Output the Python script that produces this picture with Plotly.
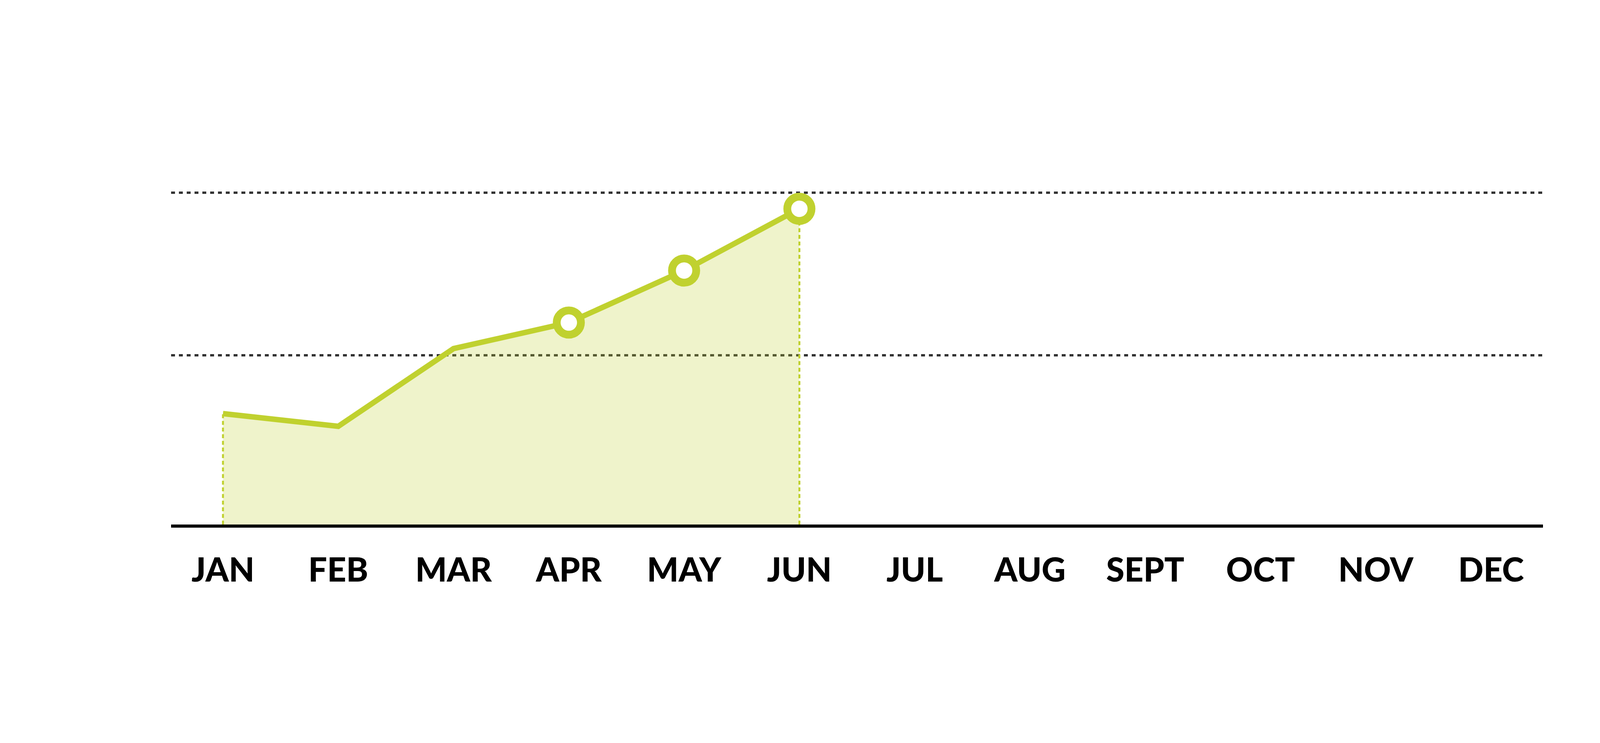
import plotly.graph_objects as go

months = ["JAN", "FEB", "MAR", "APR", "MAY", "JUN", "JUL", "AUG", "SEPT", "OCT", "NOV", "DEC"]
data_months = ["JAN", "FEB", "MAR", "APR", "MAY", "JUN"]
values = [34.1, 30.2, 54.1, 62.1, 78.1, 97.1]
marker_months = ["APR", "MAY", "JUN"]
marker_values = [62.1, 78.1, 97.1]
grid_levels = [52, 102]

GREEN = "#C0D12F"
FILL = "rgba(192,209,47,0.25)"

fig = go.Figure()

# shaded area
fig.add_trace(go.Scatter(
    x=data_months, y=values, mode="none", fill="tozeroy",
    fillcolor=FILL, hoverinfo="skip", showlegend=False,
))

# vertical dashed guides at the first and last points
for m, v in [(data_months[0], values[0]), (data_months[-1], values[-1])]:
    fig.add_trace(go.Scatter(
        x=[m, m], y=[0, v], mode="lines",
        line=dict(color=GREEN, width=5, dash="10px,7px"),
        hoverinfo="skip", showlegend=False,
    ))

# main line
fig.add_trace(go.Scatter(
    x=data_months, y=values, mode="lines",
    line=dict(color=GREEN, width=14),
    showlegend=False,
))

# ring markers
fig.add_trace(go.Scatter(
    x=marker_months, y=marker_values, mode="markers",
    marker=dict(size=62, color="white", line=dict(color=GREEN, width=20)),
    showlegend=False,
))

fig.update_layout(
    width=4096, height=1901,
    margin=dict(l=430, r=154, t=200, b=567),
    plot_bgcolor="white", paper_bgcolor="white",
    xaxis=dict(
        type="category", categoryorder="array", categoryarray=months,
        range=[-0.45, 11.45],
        showgrid=False, zeroline=False,
        showline=True, linecolor="black", linewidth=8,
        ticks="", ticklabelstandoff=36,
        tickfont=dict(family="Lato", size=85, color="black", weight=900),
    ),
    yaxis=dict(
        range=[0, 136.3],
        tickvals=grid_levels, showticklabels=False,
        showgrid=True, gridcolor="#333333", gridwidth=6, griddash="10px,10px",
        zeroline=False, showline=False, ticks="",
    ),
)

fig.write_html("out.html")
